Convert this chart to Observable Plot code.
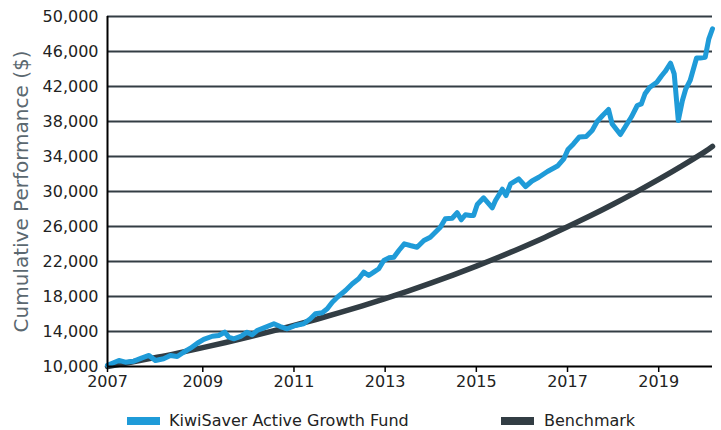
<!DOCTYPE html>
<html>
<head>
<meta charset="utf-8">
<script src="https://cdn.jsdelivr.net/npm/d3@7"></script>
<script src="https://cdn.jsdelivr.net/npm/@observablehq/plot@0.6"></script>
<style>
  html, body { margin: 0; padding: 0; background: #fff; }
  #wrap { width: 721px; font-family: "DejaVu Sans", sans-serif; }
  #legend { position: relative; width: 721px; height: 30px; color: #222; font-size: 16px; }
  .sw { position: absolute; top: 17px; width: 33px; height: 8px; }
  .lb { position: absolute; top: 11px; line-height: 19px; white-space: nowrap; }
</style>
</head>
<body>
<div id="wrap">
  <div id="chart"></div>
  <div id="legend"></div>
</div>
<script>
// ---- data ----
const seriesNames = ["KiwiSaver Active Growth Fund", "Benchmark"];
const seriesColors = ["#1f9bd8", "#323d44"];

const fundYears = [2006.91, 2007.16, 2007.30, 2007.49, 2007.67, 2007.82, 2007.96, 2008.14, 2008.29, 2008.44,
  2008.58, 2008.73, 2008.88, 2009.02, 2009.21, 2009.35, 2009.48, 2009.57, 2009.68, 2009.83,
  2009.97, 2010.08, 2010.19, 2010.34, 2010.56, 2010.70, 2010.85, 2011.03, 2011.21, 2011.36,
  2011.47, 2011.62, 2011.73, 2011.84, 2011.95, 2012.13, 2012.28, 2012.42, 2012.53, 2012.64,
  2012.75, 2012.86, 2012.97, 2013.08, 2013.19, 2013.30, 2013.42, 2013.55, 2013.70, 2013.85,
  2013.99, 2014.10, 2014.21, 2014.32, 2014.47, 2014.58, 2014.67, 2014.76, 2014.87, 2014.94,
  2015.02, 2015.16, 2015.35, 2015.42, 2015.57, 2015.65, 2015.75, 2015.93, 2016.08, 2016.22,
  2016.37, 2016.56, 2016.78, 2016.92, 2017.01, 2017.13, 2017.26, 2017.41, 2017.54, 2017.65,
  2017.77, 2017.90, 2017.98, 2018.16, 2018.29, 2018.40, 2018.53, 2018.62, 2018.70, 2018.80,
  2018.96, 2019.06, 2019.14, 2019.26, 2019.34, 2019.43, 2019.52, 2019.59, 2019.69, 2019.83,
  2019.91, 2020.02, 2020.10, 2020.18];
const fundValues = [10150, 10690, 10490, 10610, 10990, 11260, 10690, 10880, 11260, 11140,
  11630, 12090, 12660, 13090, 13460, 13540, 13920, 13350, 13170, 13430,
  13920, 13620, 14110, 14420, 14880, 14570, 14310, 14690, 14880, 15450,
  16020, 16140, 16590, 17350, 17920, 18690, 19450, 20020, 20780, 20400,
  20780, 21170, 22110, 22420, 22490, 23260, 24020, 23830, 23630, 24400,
  24780, 25350, 25920, 26880, 26950, 27570, 26770, 27340, 27260, 27260,
  28510, 29280, 28140, 28970, 30260, 29540, 30880, 31450, 30570, 31200,
  31630, 32290, 32910, 33740, 34800, 35430, 36230, 36290, 36970, 38000,
  38690, 39370, 37710, 36510, 37600, 38510, 39830, 40020, 41170, 41890,
  42490, 43200, 43710, 44660, 43450, 38110, 40400, 41660, 42690, 45260,
  45260, 45350, 47450, 48600];

const benchYears = [2006.91, 2007.5, 2008.0, 2008.5, 2009.0, 2009.5, 2010.0, 2010.5, 2011.0, 2011.5,
  2012.0, 2012.5, 2013.0, 2013.5, 2014.0, 2014.5, 2015.0, 2015.5, 2016.0, 2016.5,
  2017.0, 2017.5, 2018.0, 2018.5, 2019.0, 2019.5, 2020.0, 2020.18];
const benchValues = [10000, 10580, 11060, 11590, 12150, 12740, 13360, 14010, 14690, 15400,
  16150, 16940, 17760, 18620, 19530, 20480, 21470, 22510, 23610, 24750,
  25960, 27220, 28540, 29930, 31380, 32900, 34500, 35150];

const yTicks = [10000, 14000, 18000, 22000, 26000, 30000, 34000, 38000, 42000, 46000, 50000];
const xTickYears = [2006.91, 2009, 2011, 2013, 2015, 2017, 2019];
const xTickLabels = ["2007", "2009", "2011", "2013", "2015", "2017", "2019"];
const yTitle = "Cumulative Performance ($)";

// ---- tables ----
const fund = fundYears.map((t, i) => ({year: t, value: fundValues[i]}));
const bench = benchYears.map((t, i) => ({year: t, value: benchValues[i]}));
const xDomain = [fundYears[0], fundYears[fundYears.length - 1]];

const chart = Plot.plot({
  width: 721,
  height: 400,
  marginLeft: 107,
  marginRight: 9,
  marginTop: 16,
  marginBottom: 34,
  style: {fontFamily: "'DejaVu Sans', sans-serif", fontSize: "16px", color: "#222", background: "#fff", overflow: "visible"},
  x: {domain: xDomain},
  y: {domain: [yTicks[0], yTicks[yTicks.length - 1]]},
  marks: [
    Plot.ruleY(yTicks.slice(1), {stroke: "#333d44", strokeWidth: 2}),
    Plot.line(bench, {x: "year", y: "value", stroke: seriesColors[1], strokeWidth: 5.5, curve: "natural"}),
    Plot.line(fund, {x: "year", y: "value", stroke: seriesColors[0], strokeWidth: 5, strokeLinejoin: "round", strokeLinecap: "round"}),
    Plot.ruleX([xDomain[0]], {stroke: "#000", strokeWidth: 2}),
    Plot.ruleY([yTicks[0]], {stroke: "#000", strokeWidth: 2}),
    Plot.axisY({ticks: yTicks, tickFormat: d3.format(","), tickSize: 0, tickPadding: 9, label: null, fill: "#222", fontSize: 16}),
    Plot.axisX({ticks: xTickYears, tickFormat: d => xTickLabels[xTickYears.indexOf(d)], tickSize: 6, tickPadding: 3, label: null, stroke: "#000", strokeWidth: 1.5, fill: "#222", fontSize: 16}),
    Plot.text([yTitle], {frameAnchor: "left", rotate: -90, dx: -86, textAnchor: "middle", lineAnchor: "middle", fontSize: 20, fill: "#5b6870"})
  ]
});
document.getElementById("chart").appendChild(chart);

// ---- legend ----
const legend = document.getElementById("legend");
const swX = [127, 501];
const lbX = [169, 544];
seriesNames.forEach((name, i) => {
  const sw = document.createElement("span");
  sw.className = "sw";
  sw.style.left = swX[i] + "px";
  sw.style.background = seriesColors[i];
  legend.appendChild(sw);
  const lb = document.createElement("span");
  lb.className = "lb";
  lb.style.left = lbX[i] + "px";
  lb.textContent = name;
  legend.appendChild(lb);
});
</script>
</body>
</html>
